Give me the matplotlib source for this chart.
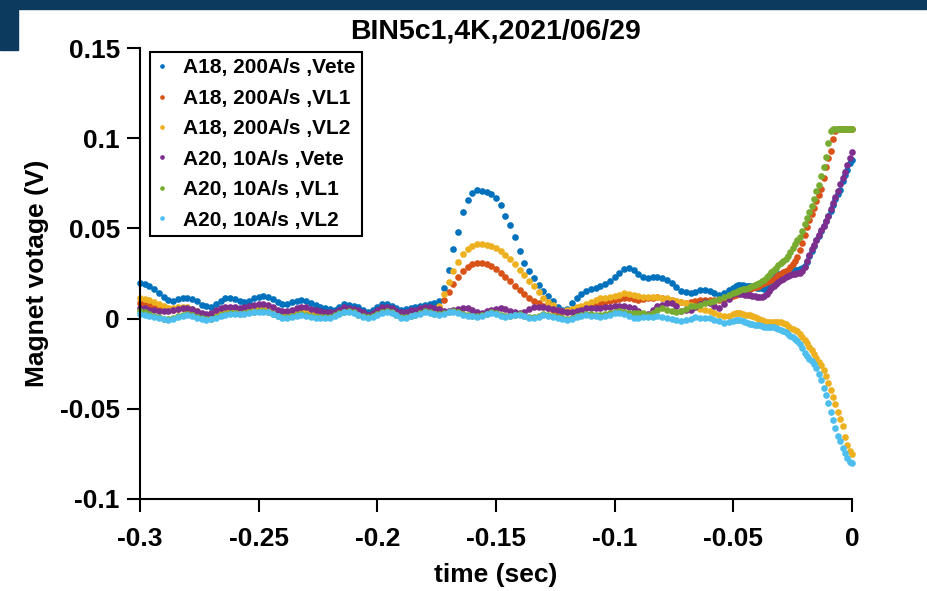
import numpy as np
import matplotlib
matplotlib.use('Agg')
import matplotlib.pyplot as plt
from matplotlib.patches import Rectangle

# time grid: 2 ms steps up to -0.052 s, then 1 ms steps to 0
TIME = np.round(np.r_[np.arange(-0.300, -0.0505, 0.002), np.arange(-0.050, 0.0005, 0.001)], 3)

A18_VETE = [
    0.0198, 0.0192, 0.0180, 0.0163, 0.0142, 0.0120, 0.0104, 0.0100, 0.0108, 0.0114,
    0.0115, 0.0108, 0.0095, 0.0078, 0.0068, 0.0065, 0.0080, 0.0100, 0.0112, 0.0114,
    0.0106, 0.0096, 0.0093, 0.0100, 0.0112, 0.0122, 0.0126, 0.0122, 0.0106, 0.0090,
    0.0082, 0.0082, 0.0090, 0.0100, 0.0104, 0.0100, 0.0088, 0.0076, 0.0066, 0.0058,
    0.0052, 0.0050, 0.0064, 0.0080, 0.0078, 0.0070, 0.0065, 0.0050, 0.0034, 0.0045,
    0.0066, 0.0080, 0.0082, 0.0072, 0.0058, 0.0050, 0.0053, 0.0060, 0.0066, 0.0072,
    0.0077, 0.0080, 0.0084, 0.0095, 0.0170, 0.0270, 0.0385, 0.0480, 0.0590, 0.0660,
    0.0695, 0.0714, 0.0710, 0.0700, 0.0688, 0.0668, 0.0630, 0.0570, 0.0520, 0.0455,
    0.0375, 0.0310, 0.0265, 0.0225, 0.0185, 0.0155, 0.0125, 0.0095, 0.0065, 0.0050,
    0.0055, 0.0085, 0.0112, 0.0135, 0.0152, 0.0162, 0.0172, 0.0180, 0.0192, 0.0210,
    0.0232, 0.0254, 0.0275, 0.0280, 0.0268, 0.0250, 0.0232, 0.0225, 0.0230, 0.0232,
    0.0225, 0.0212, 0.0195, 0.0175, 0.0155, 0.0145, 0.0143, 0.0150, 0.0158, 0.0160,
    0.0152, 0.0140, 0.0130, 0.0140, 0.0158,
    0.0170, 0.0180, 0.0187, 0.0188, 0.0185, 0.0182, 0.0180, 0.0180, 0.0178, 0.0175,
    0.0172, 0.0170, 0.0168, 0.0165, 0.0162, 0.0175, 0.0200, 0.0226, 0.0238, 0.0245,
    0.0250, 0.0254, 0.0258, 0.0260, 0.0262, 0.0265, 0.0268, 0.0272, 0.0276, 0.0280,
    0.0290, 0.0315, 0.0345, 0.0375, 0.0405, 0.0435, 0.0460, 0.0488, 0.0513, 0.0540,
    0.0568, 0.0596, 0.0630, 0.0663, 0.0690, 0.0715, 0.0760, 0.0795, 0.0825, 0.0860,
    0.0880]

A18_VL1 = [
    0.0088, 0.0082, 0.0074, 0.0066, 0.0058, 0.0052, 0.0049, 0.0048, 0.0052, 0.0057,
    0.0052, 0.0044, 0.0032, 0.0022, 0.0019, 0.0024, 0.0037, 0.0049, 0.0056, 0.0057,
    0.0054, 0.0052, 0.0055, 0.0060, 0.0066, 0.0071, 0.0072, 0.0068, 0.0056, 0.0042,
    0.0033, 0.0033, 0.0041, 0.0051, 0.0057, 0.0054, 0.0045, 0.0037, 0.0032, 0.0030,
    0.0028, 0.0028, 0.0042, 0.0057, 0.0052, 0.0046, 0.0042, 0.0030, 0.0012, 0.0022,
    0.0040, 0.0054, 0.0058, 0.0048, 0.0036, 0.0026, 0.0030, 0.0038, 0.0042, 0.0048,
    0.0055, 0.0056, 0.0055, 0.0063, 0.0105, 0.0150, 0.0192, 0.0230, 0.0262, 0.0288,
    0.0300, 0.0310, 0.0310, 0.0302, 0.0290, 0.0275, 0.0255, 0.0232, 0.0208, 0.0182,
    0.0160, 0.0135, 0.0115, 0.0098, 0.0085, 0.0072, 0.0060, 0.0048, 0.0038, 0.0035,
    0.0038, 0.0045, 0.0052, 0.0060, 0.0066, 0.0072, 0.0080, 0.0088, 0.0093, 0.0098,
    0.0103, 0.0108, 0.0112, 0.0112, 0.0108, 0.0104, 0.0106, 0.0112, 0.0116, 0.0118,
    0.0115, 0.0108, 0.0102, 0.0100, 0.0092, 0.0088, 0.0092, 0.0098, 0.0103, 0.0104,
    0.0104, 0.0103, 0.0102, 0.0104, 0.0115,
    0.0125, 0.0133, 0.0140, 0.0143, 0.0148, 0.0155, 0.0160, 0.0165, 0.0170, 0.0174,
    0.0176, 0.0182, 0.0190, 0.0198, 0.0204, 0.0208, 0.0212, 0.0215, 0.0228, 0.0240,
    0.0250, 0.0258, 0.0266, 0.0272, 0.0285, 0.0300, 0.0320, 0.0340, 0.0380, 0.0420,
    0.0465, 0.0510, 0.0548, 0.0582, 0.0615, 0.0650, 0.0685, 0.0720, 0.0780, 0.0840,
    0.0890, 0.0930, 0.0995, 0.1040, 0.1050, 0.1050, 0.1050, 0.1050, 0.1050, 0.1050,
    0.1050]

A18_VL2 = [
    0.0115, 0.0110, 0.0102, 0.0094, 0.0082, 0.0070, 0.0061, 0.0060, 0.0064, 0.0066,
    0.0064, 0.0055, 0.0040, 0.0026, 0.0020, 0.0024, 0.0035, 0.0045, 0.0050, 0.0052,
    0.0048, 0.0046, 0.0048, 0.0053, 0.0058, 0.0063, 0.0064, 0.0060, 0.0048, 0.0035,
    0.0027, 0.0027, 0.0034, 0.0044, 0.0050, 0.0047, 0.0038, 0.0030, 0.0026, 0.0025,
    0.0024, 0.0026, 0.0036, 0.0048, 0.0046, 0.0040, 0.0036, 0.0026, 0.0014, 0.0020,
    0.0034, 0.0046, 0.0050, 0.0042, 0.0032, 0.0024, 0.0026, 0.0032, 0.0036, 0.0040,
    0.0045, 0.0048, 0.0052, 0.0070, 0.0135, 0.0205, 0.0265, 0.0315, 0.0360, 0.0388,
    0.0402, 0.0413, 0.0414, 0.0408, 0.0402, 0.0392, 0.0375, 0.0355, 0.0330, 0.0300,
    0.0270, 0.0240, 0.0210, 0.0180, 0.0145, 0.0115, 0.0090, 0.0075, 0.0050, 0.0040,
    0.0045, 0.0055, 0.0065, 0.0072, 0.0080, 0.0090, 0.0102, 0.0112, 0.0115, 0.0120,
    0.0126, 0.0132, 0.0140, 0.0138, 0.0132, 0.0128, 0.0122, 0.0118, 0.0120, 0.0118,
    0.0112, 0.0112, 0.0105, 0.0098, 0.0094, 0.0088, 0.0075, 0.0065, 0.0055, 0.0050,
    0.0040, 0.0030, 0.0020, 0.0014, 0.0015,
    0.0025, 0.0030, 0.0032, 0.0030, 0.0025, 0.0022, 0.0022, 0.0020, 0.0015, 0.0010,
    0.0005, 0.0000, -0.0006, -0.0012, -0.0018, -0.0018, -0.0018, -0.0018, -0.0020, -0.0020,
    -0.0020, -0.0022, -0.0032, -0.0042, -0.0050, -0.0056, -0.0062, -0.0070, -0.0085, -0.0100,
    -0.0118, -0.0134, -0.0155, -0.0175, -0.0195, -0.0218, -0.0238, -0.0258, -0.0285, -0.0318,
    -0.0357, -0.0395, -0.0435, -0.0475, -0.0515, -0.0555, -0.0595, -0.0655, -0.0700, -0.0735,
    -0.0750]

A20_VETE = [
    0.0060, 0.0056, 0.0050, 0.0045, 0.0042, 0.0040, 0.0040, 0.0045, 0.0053, 0.0059,
    0.0060, 0.0052, 0.0040, 0.0030, 0.0027, 0.0032, 0.0045, 0.0057, 0.0064, 0.0065,
    0.0062, 0.0060, 0.0063, 0.0068, 0.0074, 0.0079, 0.0080, 0.0076, 0.0064, 0.0050,
    0.0041, 0.0041, 0.0049, 0.0059, 0.0065, 0.0062, 0.0053, 0.0045, 0.0040, 0.0038,
    0.0036, 0.0036, 0.0050, 0.0065, 0.0060, 0.0054, 0.0050, 0.0038, 0.0020, 0.0030,
    0.0048, 0.0062, 0.0066, 0.0056, 0.0044, 0.0034, 0.0038, 0.0046, 0.0050, 0.0056,
    0.0065, 0.0064, 0.0060, 0.0052, 0.0040, 0.0040, 0.0047, 0.0052, 0.0058, 0.0056,
    0.0046, 0.0037, 0.0032, 0.0040, 0.0049, 0.0055, 0.0060, 0.0054, 0.0042, 0.0035,
    0.0032, 0.0038, 0.0052, 0.0064, 0.0066, 0.0065, 0.0060, 0.0052, 0.0046, 0.0040,
    0.0038, 0.0038, 0.0040, 0.0050, 0.0058, 0.0060, 0.0060, 0.0060, 0.0062, 0.0066,
    0.0069, 0.0070, 0.0068, 0.0064, 0.0060, 0.0040, 0.0018, 0.0025, 0.0050, 0.0070,
    0.0075, 0.0085, 0.0088, 0.0070, 0.0040, 0.0045, 0.0050, 0.0065, 0.0080, 0.0090,
    0.0085, 0.0070, 0.0060, 0.0080, 0.0110,
    0.0135, 0.0143, 0.0143, 0.0138, 0.0134, 0.0131, 0.0130, 0.0130, 0.0128, 0.0125,
    0.0122, 0.0120, 0.0120, 0.0125, 0.0138, 0.0155, 0.0170, 0.0178, 0.0190, 0.0205,
    0.0215, 0.0222, 0.0230, 0.0235, 0.0240, 0.0245, 0.0250, 0.0252, 0.0255, 0.0265,
    0.0285, 0.0320, 0.0355, 0.0385, 0.0410, 0.0435, 0.0462, 0.0490, 0.0515, 0.0540,
    0.0570, 0.0605, 0.0640, 0.0675, 0.0710, 0.0745, 0.0780, 0.0815, 0.0850, 0.0890,
    0.0925]

A20_VL1 = [
    0.0040, 0.0035, 0.0025, 0.0016, 0.0008, 0.0000, -0.0003, 0.0002, 0.0012, 0.0021,
    0.0024, 0.0019, 0.0010, 0.0002, -0.0003, 0.0000, 0.0010, 0.0019, 0.0026, 0.0031,
    0.0030, 0.0028, 0.0031, 0.0035, 0.0039, 0.0042, 0.0042, 0.0038, 0.0028, 0.0017,
    0.0010, 0.0010, 0.0015, 0.0021, 0.0024, 0.0021, 0.0015, 0.0010, 0.0009, 0.0008,
    0.0010, 0.0018, 0.0029, 0.0038, 0.0042, 0.0034, 0.0022, 0.0012, 0.0008, 0.0014,
    0.0026, 0.0037, 0.0042, 0.0035, 0.0022, 0.0010, 0.0010, 0.0016, 0.0022, 0.0032,
    0.0040, 0.0036, 0.0028, 0.0024, 0.0030, 0.0038, 0.0041, 0.0034, 0.0026, 0.0020,
    0.0016, 0.0014, 0.0018, 0.0028, 0.0035, 0.0030, 0.0020, 0.0014, 0.0017, 0.0022,
    0.0023, 0.0016, 0.0010, 0.0009, 0.0015, 0.0023, 0.0020, 0.0013, 0.0008, 0.0002,
    -0.0003, 0.0002, 0.0012, 0.0020, 0.0025, 0.0024, 0.0022, 0.0022, 0.0026, 0.0032,
    0.0038, 0.0040, 0.0036, 0.0030, 0.0030, 0.0032, 0.0030, 0.0022, 0.0030, 0.0045,
    0.0058, 0.0050, 0.0040, 0.0036, 0.0040, 0.0055, 0.0070, 0.0070, 0.0075, 0.0085,
    0.0092, 0.0098, 0.0106, 0.0118, 0.0130,
    0.0143, 0.0148, 0.0152, 0.0157, 0.0162, 0.0166, 0.0170, 0.0175, 0.0180, 0.0186,
    0.0192, 0.0198, 0.0206, 0.0216, 0.0228, 0.0242, 0.0256, 0.0268, 0.0282, 0.0295,
    0.0308, 0.0320, 0.0333, 0.0348, 0.0370, 0.0393, 0.0415, 0.0435, 0.0452, 0.0488,
    0.0525, 0.0558, 0.0590, 0.0625, 0.0665, 0.0705, 0.0740, 0.0790, 0.0840, 0.0895,
    0.0975, 0.1040, 0.1050, 0.1050, 0.1050, 0.1050, 0.1050, 0.1050, 0.1050, 0.1050,
    0.1050]

A20_VL2 = [
    0.0025, 0.0022, 0.0015, 0.0008, 0.0002, -0.0004, -0.0007, -0.0002, 0.0008, 0.0017,
    0.0020, 0.0015, 0.0006, -0.0002, -0.0007, -0.0004, 0.0006, 0.0015, 0.0022, 0.0027,
    0.0026, 0.0024, 0.0027, 0.0031, 0.0035, 0.0038, 0.0038, 0.0034, 0.0024, 0.0013,
    0.0006, 0.0006, 0.0011, 0.0017, 0.0020, 0.0017, 0.0011, 0.0006, 0.0005, 0.0004,
    0.0006, 0.0014, 0.0025, 0.0034, 0.0038, 0.0030, 0.0018, 0.0008, 0.0004, 0.0010,
    0.0022, 0.0033, 0.0038, 0.0031, 0.0018, 0.0006, 0.0006, 0.0012, 0.0018, 0.0028,
    0.0036, 0.0032, 0.0024, 0.0020, 0.0026, 0.0034, 0.0037, 0.0030, 0.0022, 0.0016,
    0.0012, 0.0010, 0.0014, 0.0024, 0.0031, 0.0026, 0.0016, 0.0010, 0.0013, 0.0018,
    0.0019, 0.0012, 0.0006, 0.0005, 0.0011, 0.0019, 0.0016, 0.0009, 0.0004, -0.0002,
    -0.0007, -0.0002, 0.0008, 0.0016, 0.0020, 0.0016, 0.0012, 0.0010, 0.0014, 0.0022,
    0.0030, 0.0032, 0.0024, 0.0014, 0.0005, 0.0002, 0.0008, 0.0010, 0.0010, 0.0013,
    0.0008, 0.0003, -0.0002, -0.0008, -0.0015, -0.0010, 0.0000, 0.0008, 0.0006, 0.0004,
    0.0002, -0.0006, -0.0016, -0.0023, -0.0018,
    -0.0012, -0.0009, -0.0007, -0.0007, -0.0012, -0.0018, -0.0024, -0.0028, -0.0031, -0.0033,
    -0.0035, -0.0038, -0.0042, -0.0045, -0.0046, -0.0046, -0.0046, -0.0048, -0.0052, -0.0058,
    -0.0064, -0.0071, -0.0077, -0.0086, -0.0096, -0.0104, -0.0112, -0.0122, -0.0140, -0.0165,
    -0.0192, -0.0208, -0.0222, -0.0236, -0.0252, -0.0275, -0.0305, -0.0340, -0.0385, -0.0425,
    -0.0468, -0.0515, -0.0560, -0.0605, -0.0650, -0.0680, -0.0715, -0.0745, -0.0772, -0.0795,
    -0.0800]

LABELS = ['A18, 200A/s ,Vete', 'A18, 200A/s ,VL1', 'A18, 200A/s ,VL2',
          'A20, 10A/s ,Vete', 'A20, 10A/s ,VL1', 'A20, 10A/s ,VL2']
XTICKS = [-0.3, -0.25, -0.2, -0.15, -0.1, -0.05, 0]
XTICK_LABELS = ['-0.3', '-0.25', '-0.2', '-0.15', '-0.1', '-0.05', '0']
YTICKS = [-0.1, -0.05, 0, 0.05, 0.1, 0.15]
YTICK_LABELS = ['-0.1', '-0.05', '0', '0.05', '0.1', '0.15']

# matlab default line colours
COLORS = ['#0072BD', '#D95319', '#EDB120', '#7E2F8E', '#77AC30', '#4DBEEE']

plt.rcParams['font.family'] = ['Liberation Sans', 'DejaVu Sans']
plt.rcParams['font.weight'] = 'bold'
plt.rcParams['axes.unicode_minus'] = False
FONTSIZE = 19

fig = plt.figure(figsize=(9.27, 5.91), dpi=100)
ax = fig.add_axes([140 / 927, 1 - 499 / 591, 712 / 927, 451 / 591])

series = [A18_VETE, A18_VL1, A18_VL2, A20_VETE, A20_VL1, A20_VL2]
for vals, col, lab in zip(series, COLORS, LABELS):
    ax.plot(TIME, vals, 'o', ms=4.8, mew=0, color=col, label=lab, clip_on=False)

ax.set_xlim(-0.3, 0)
ax.set_ylim(-0.1, 0.15)
ax.set_xticks(XTICKS)
ax.set_xticklabels(XTICK_LABELS)
ax.set_yticks(YTICKS)
ax.set_yticklabels(YTICK_LABELS)
ax.spines['top'].set_visible(False)
ax.spines['right'].set_visible(False)
for s in ['left', 'bottom']:
    ax.spines[s].set_linewidth(1.5)
ax.tick_params(direction='out', length=9.5, width=1.5, labelsize=FONTSIZE)
ax.tick_params(axis='x', pad=11)
ax.tick_params(axis='y', pad=5)
ax.set_xlabel('time (sec)', fontsize=FONTSIZE, fontweight='bold', labelpad=8)
ax.set_ylabel('Magnet votage (V)', fontsize=FONTSIZE, fontweight='bold', labelpad=8)
ax.set_title('BIN5c1,4K,2021/06/29', fontsize=20.5, fontweight='bold', pad=7)

leg = ax.legend(loc='upper left', bbox_to_anchor=(0.008, 1.0), fontsize=15, frameon=True,
                fancybox=False, edgecolor='black', framealpha=1, handlelength=0.6,
                handletextpad=0.7, borderpad=0.3, labelspacing=0.55, borderaxespad=0.2,
                markerscale=0.7)
leg.get_frame().set_linewidth(1.5)

# slide background bits around the picture
fig.patches.append(Rectangle((0, 1 - 9 / 591), 1, 9 / 591, transform=fig.transFigure,
                             color='#0b3a5e', zorder=0))
fig.patches.append(Rectangle((0, 1 - 50 / 591), 18 / 927, 50 / 591, transform=fig.transFigure,
                             color='#0b3a5e', zorder=0))

fig.savefig('out.png', dpi=100)
